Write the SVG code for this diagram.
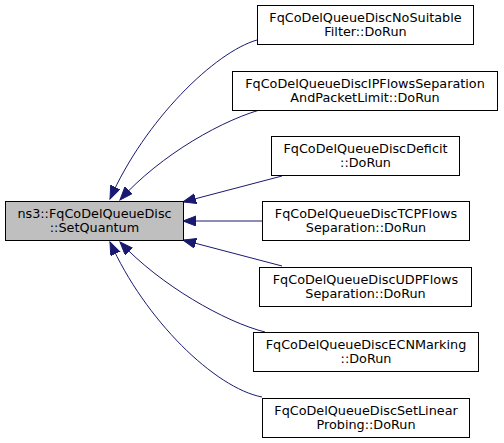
<svg xmlns="http://www.w3.org/2000/svg" width="504" height="443" viewBox="0 0 504 443">
<style>
.n rect{fill:#ffffff;stroke:#000000;stroke-width:1}
.n text{font-family:"DejaVu Sans",sans-serif;font-size:12.8px;text-anchor:middle;fill:#000000}
#main rect{fill:#bfbfbf}
.e path{fill:none;stroke:#191970;stroke-width:1;marker-end:url(#ah)}
</style>
<defs>
<marker id="ah" markerUnits="userSpaceOnUse" markerWidth="14" markerHeight="12" refX="13" refY="5" orient="auto">
<path d="M0,0 L13,5 L0,10 Z" fill="#191970" stroke="#191970"/>
</marker>
</defs>
<rect width="504" height="443" fill="#ffffff"/>
<g id="edges" class="e">
<path d="M257,40 C215,52 145,120 110,199"/>
<path d="M267,108 C225,118 160,155 120,200"/>
<path d="M282,176 L183,202"/>
<path d="M262,221 L183,221"/>
<path d="M282,266 L183,240"/>
<path d="M265,332 C225,322 160,285 120,242"/>
<path d="M262,397 C215,388 145,320 110,242"/>
</g>
<g id="main" class="n">
<rect x="5.5" y="201.5" width="178" height="39"/>
<text x="94.5" y="218">ns3::FqCoDelQueueDisc</text>
<text x="94.5" y="231.5">::SetQuantum</text>
</g>
<g id="n1" class="n">
<rect x="257.5" y="5.5" width="216" height="39"/>
<text x="365.5" y="22">FqCoDelQueueDiscNoSuitable</text>
<text x="365.5" y="35.5">Filter::DoRun</text>
</g>
<g id="n2" class="n">
<rect x="232.5" y="71.5" width="265" height="39"/>
<text x="365" y="88">FqCoDelQueueDiscIPFlowsSeparation</text>
<text x="365" y="101.5">AndPacketLimit::DoRun</text>
</g>
<g id="n3" class="n">
<rect x="271.5" y="136.5" width="188" height="39"/>
<text x="365.5" y="153">FqCoDelQueueDiscDeficit</text>
<text x="365.5" y="166.5">::DoRun</text>
</g>
<g id="n4" class="n">
<rect x="262.5" y="201.5" width="207" height="39"/>
<text x="366" y="218">FqCoDelQueueDiscTCPFlows</text>
<text x="366" y="231.5">Separation::DoRun</text>
</g>
<g id="n5" class="n">
<rect x="259.5" y="267.5" width="212" height="39"/>
<text x="365.5" y="284">FqCoDelQueueDiscUDPFlows</text>
<text x="365.5" y="297.5">Separation::DoRun</text>
</g>
<g id="n6" class="n">
<rect x="253.5" y="332.5" width="225" height="39"/>
<text x="366" y="349">FqCoDelQueueDiscECNMarking</text>
<text x="366" y="362.5">::DoRun</text>
</g>
<g id="n7" class="n">
<rect x="262.5" y="398.5" width="207" height="39"/>
<text x="366" y="415">FqCoDelQueueDiscSetLinear</text>
<text x="366" y="428.5">Probing::DoRun</text>
</g>
</svg>
